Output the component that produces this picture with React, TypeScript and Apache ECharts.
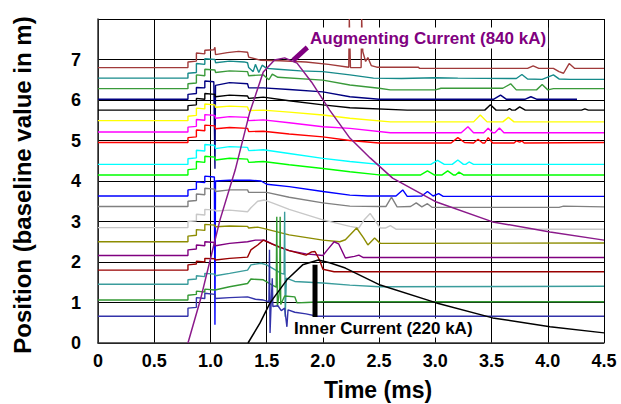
import React, { useEffect, useRef } from "react";
import * as echarts from "echarts";

// ---- Data (time in ms, position in m) ----
const yTickLabels = ["0", "1", "2", "3", "4", "5", "6", "7"];

const trace01 = [[0,6.80],[0.80,6.80],[0.80,6.94],[0.875,6.96],[0.875,7.16],[0.95,7.14],[0.95,7.23],[1.03,7.24],[1.04,7.30],[1.045,7.12],[1.15,7.17],[1.25,7.20],[1.33,7.18],[1.34,7.06],[1.45,6.98],[1.62,6.97],[1.85,6.94],[2.05,6.88],[2.23,6.81],[2.235,8.0],[2.245,6.80],[2.34,6.80],[2.345,8.0],[2.355,7.19],[2.38,6.95],[2.40,7.05],[2.43,6.85],[2.48,6.81],[2.85,6.81],[2.86,6.78],[3.82,6.78],[3.87,6.84],[3.92,6.78],[4.05,6.78],[4.10,6.70],[4.14,6.66],[4.19,6.90],[4.24,6.78],[4.5,6.78]];
const trace02 = [[0,6.54],[0.80,6.54],[0.80,6.66],[0.875,6.68],[0.875,6.90],[0.95,6.88],[0.95,7.02],[1.04,7.00],[1.045,6.92],[1.17,6.96],[1.30,6.94],[1.33,6.92],[1.34,6.80],[1.38,6.70],[1.40,6.88],[1.43,6.68],[1.46,6.86],[1.50,6.78],[1.60,6.76],[1.80,6.72],[2.0,6.70],[2.24,6.62],[2.45,6.54],[2.7,6.53],[3.0,6.55],[3.2,6.54],[3.72,6.53],[3.77,6.63],[3.82,6.52],[3.95,6.51],[4.05,6.62],[4.10,6.52],[4.2,6.51],[4.5,6.51]];
const trace03 = [[0,6.28],[0.80,6.28],[0.80,6.40],[0.875,6.42],[0.875,6.62],[0.95,6.60],[0.95,6.76],[1.04,6.74],[1.045,6.68],[1.17,6.72],[1.33,6.70],[1.34,6.60],[1.47,6.62],[1.52,6.50],[1.55,6.64],[1.60,6.56],[2.0,6.49],[2.24,6.37],[2.50,6.29],[2.6,6.25],[3.0,6.25],[3.05,6.29],[3.60,6.29],[3.67,6.40],[3.72,6.25],[3.90,6.25],[3.95,6.38],[4.0,6.25],[4.05,6.28],[4.5,6.28]];
const trace04 = [[0,6.02],[0.80,6.02],[0.80,6.14],[0.875,6.16],[0.875,6.31],[0.95,6.30],[0.95,6.47],[1.03,6.45],[1.04,4.30],[1.045,6.36],[1.17,6.43],[1.33,6.40],[1.34,6.30],[1.47,6.30],[1.70,6.26],[2.0,6.20],[2.24,6.08],[2.5,6.02],[3.52,6.02],[3.58,6.12],[3.63,6.02],[3.80,6.02],[3.85,6.08],[3.90,6.02],[4.26,6.02]];
const trace05 = [[0,5.75],[0.80,5.75],[0.80,5.86],[0.875,5.88],[0.875,6.04],[0.95,6.02],[0.95,6.16],[1.04,6.14],[1.045,6.08],[1.17,6.12],[1.33,6.10],[1.34,6.04],[1.47,6.07],[1.70,5.98],[2.0,5.88],[2.24,5.81],[2.75,5.75],[3.44,5.75],[3.49,5.88],[3.54,5.75],[3.64,5.75],[3.66,5.79],[3.68,5.75],[3.71,5.75],[3.75,5.83],[3.80,5.75],[4.30,5.75],[4.33,5.78],[4.36,5.75],[4.5,5.75]];
const trace06 = [[0,5.49],[0.80,5.49],[0.80,5.60],[0.875,5.62],[0.875,5.80],[0.95,5.78],[0.95,5.90],[1.04,5.88],[1.045,5.82],[1.17,5.85],[1.33,5.83],[1.34,5.74],[1.47,5.75],[1.70,5.70],[2.0,5.63],[2.24,5.55],[2.6,5.46],[3.34,5.46],[3.40,5.63],[3.46,5.46],[3.60,5.46],[3.65,5.57],[3.70,5.46],[4.5,5.46]];
const trace07 = [[0,5.21],[0.80,5.21],[0.80,5.33],[0.875,5.35],[0.875,5.52],[0.95,5.50],[0.95,5.64],[1.04,5.62],[1.045,5.55],[1.17,5.59],[1.33,5.57],[1.34,5.49],[1.47,5.51],[1.7,5.44],[2.0,5.34],[2.24,5.30],[2.6,5.19],[3.23,5.19],[3.29,5.34],[3.34,5.19],[3.43,5.19],[3.47,5.30],[3.51,5.19],[3.53,5.19],[3.57,5.31],[3.61,5.19],[4.5,5.19]];
const trace08 = [[0,4.95],[0.80,4.95],[0.80,5.07],[0.875,5.09],[0.875,5.26],[0.95,5.24],[0.95,5.38],[1.04,5.36],[1.045,5.29],[1.17,5.32],[1.33,5.30],[1.34,5.22],[1.47,5.23],[1.7,5.16],[2.0,5.09],[2.24,5.00],[2.5,4.94],[3.14,4.94],[3.20,5.07],[3.26,4.95],[3.34,4.94],[3.38,5.03],[3.42,4.94],[3.44,4.94],[3.47,5.07],[3.51,4.94],[3.70,4.94],[3.72,4.99],[3.75,4.96],[3.77,4.99],[3.79,4.94],[4.5,4.95]];
const trace09 = [[0,4.41],[0.80,4.41],[0.80,4.55],[0.875,4.57],[0.875,4.76],[0.95,4.74],[0.95,4.90],[1.04,4.88],[1.045,4.80],[1.17,4.85],[1.33,4.83],[1.34,4.75],[1.47,4.77],[1.7,4.68],[2.0,4.56],[2.24,4.48],[2.5,4.41],[2.96,4.41],[3.02,4.51],[3.08,4.41],[3.15,4.41],[3.20,4.52],[3.25,4.41],[3.27,4.41],[3.30,4.47],[3.34,4.41],[4.5,4.41]];
const trace10 = [[0,4.15],[0.80,4.15],[0.80,4.28],[0.875,4.30],[0.875,4.48],[0.95,4.46],[0.95,4.61],[1.04,4.59],[1.045,4.52],[1.17,4.56],[1.33,4.54],[1.34,4.46],[1.47,4.48],[1.7,4.40],[2.0,4.31],[2.24,4.23],[2.5,4.15],[2.87,4.15],[2.93,4.25],[2.99,4.15],[3.06,4.15],[3.11,4.25],[3.16,4.15],[3.18,4.15],[3.21,4.22],[3.25,4.15],[4.5,4.15]];
const trace11 = [[0,3.63],[0.80,3.63],[0.80,3.78],[0.875,3.80],[0.875,3.98],[0.95,3.96],[0.95,4.12],[1.035,4.10],[1.04,0.45],[1.045,4.00],[1.17,4.02],[1.35,4.02],[1.45,4.00],[1.50,3.92],[1.70,3.86],[2.0,3.74],[2.24,3.65],[2.40,3.63],[2.65,3.63],[2.71,3.78],[2.75,3.62],[2.88,3.63],[2.93,3.74],[2.98,3.63],[3.03,3.69],[3.07,3.62],[4.5,3.62]];
const trace12 = [[0,3.37],[0.80,3.37],[0.80,3.50],[0.875,3.52],[0.875,3.68],[0.95,3.66],[0.95,3.82],[1.04,3.80],[1.045,3.74],[1.17,3.78],[1.33,3.78],[1.34,3.72],[1.50,3.72],[1.70,3.60],[2.0,3.46],[2.24,3.38],[2.50,3.37],[2.56,3.37],[2.61,3.60],[2.66,3.36],[2.78,3.37],[2.83,3.46],[2.88,3.36],[2.93,3.44],[2.97,3.35],[4.10,3.35],[4.14,3.38],[4.5,3.36]];
const trace13 = [[0,2.85],[0.80,2.85],[0.80,3.00],[0.875,3.02],[0.875,3.18],[0.95,3.16],[0.95,3.30],[1.04,3.28],[1.045,3.26],[1.17,3.28],[1.33,3.24],[1.36,3.34],[1.42,3.50],[1.48,3.53],[1.55,3.46],[1.70,3.30],[2.0,3.04],[2.24,2.88],[2.32,2.84],[2.37,3.05],[2.42,3.20],[2.47,3.00],[2.51,2.84],[2.56,2.84],[2.60,2.90],[2.65,2.81],[4.5,2.81]];
const trace14 = [[0,2.50],[0.80,2.50],[0.80,2.64],[0.875,2.66],[0.875,2.80],[0.95,2.78],[0.95,2.93],[1.04,2.91],[1.045,2.87],[1.17,2.89],[1.33,2.88],[1.34,2.84],[1.42,2.86],[1.47,2.83],[1.70,2.67],[2.0,2.54],[2.15,2.50],[2.20,2.55],[2.30,2.84],[2.36,2.60],[2.40,2.42],[2.46,2.59],[2.51,2.46],[4.5,2.47]];
const trace15 = [[0,2.16],[0.80,2.16],[0.80,2.30],[0.875,2.32],[0.875,2.42],[0.95,2.40],[0.95,2.50],[1.04,2.48],[1.045,2.40],[1.17,2.46],[1.33,2.50],[1.40,2.54],[1.48,2.54],[1.60,2.38],[1.70,2.28],[1.85,2.20],[2.0,2.16],[2.04,2.30],[2.10,2.50],[2.14,2.45],[2.20,2.10],[2.28,2.14],[2.32,2.17],[2.36,2.11],[4.5,2.11]];
const trace16 = [[0,1.80],[0.80,1.80],[0.80,1.93],[0.875,1.95],[0.875,2.02],[0.95,2.00],[0.95,2.09],[1.04,2.08],[1.045,2.05],[1.17,2.09],[1.33,2.12],[1.36,2.30],[1.42,2.42],[1.47,2.54],[1.55,2.44],[1.70,2.28],[1.85,2.17],[1.90,2.25],[1.93,2.26],[1.97,2.05],[2.0,1.82],[2.10,1.76],[4.5,1.76]];
const trace17 = [[0,1.45],[0.80,1.45],[0.80,1.56],[0.875,1.58],[0.875,1.66],[0.95,1.64],[0.95,1.72],[1.04,1.70],[1.045,1.66],[1.17,1.72],[1.33,1.80],[1.36,1.93],[1.45,1.97],[1.50,1.93],[1.58,1.80],[1.63,1.72],[1.655,1.70],[1.66,3.24],[1.665,0.65],[1.675,1.60],[1.75,1.52],[2.0,1.48],[2.24,1.43],[2.5,1.39],[4.5,1.40]];
const trace18 = [[0,1.06],[0.80,1.06],[0.80,1.18],[0.875,1.20],[0.875,1.28],[0.95,1.26],[0.95,1.33],[1.04,1.31],[1.045,1.30],[1.17,1.39],[1.33,1.47],[1.36,1.58],[1.47,1.56],[1.55,1.43],[1.585,1.38],[1.59,3.12],[1.595,0.90],[1.615,1.30],[1.62,3.12],[1.625,0.95],[1.66,1.16],[1.75,1.14],[1.77,0.99],[1.85,1.00],[2.0,1.02],[4.5,1.02]];
const trace19 = [[0,0.66],[0.80,0.66],[0.80,0.86],[0.875,0.88],[0.875,1.12],[0.95,1.10],[0.95,1.23],[1.04,1.20],[1.045,1.10],[1.17,1.12],[1.33,1.14],[1.40,1.08],[1.47,1.06],[1.52,1.02],[1.525,2.30],[1.53,0.25],[1.54,1.00],[1.55,1.60],[1.555,0.90],[1.60,0.92],[1.63,0.80],[1.66,0.86],[1.68,0.40],[1.69,0.82],[1.75,0.76],[1.85,0.72],[1.95,0.66],[4.5,0.66]];

const augmentingCurrent = [[0.80,0],[0.91,1.06],[1.085,3.04],[1.22,4.27],[1.35,5.70],[1.47,6.69],[1.57,6.99],[1.66,7.04],[1.77,6.91],[1.90,6.44],[2.06,5.75],[2.24,5.06],[2.42,4.57],[2.62,4.07],[3.01,3.48],[3.51,2.99],[4.02,2.74],[4.5,2.54]];
const innerCurrent = [[1.334,0],[1.44,0.49],[1.53,0.99],[1.68,1.56],[1.82,1.93],[1.96,2.05],[2.06,1.98],[2.20,1.85],[2.51,1.43],[3.01,0.99],[3.51,0.62],[4.02,0.40],[4.5,0.25]];

const augmentPointer = [[1.735,6.98],[1.862,7.30]];
const innerMarker = [[1.93,1.93],[1.93,0.64]];

const augmentLabel = "Augmenting Current (840 kA)";
const innerLabel = "Inner Current (220 kA)";

const traces = [trace01,trace02,trace03,trace04,trace05,trace06,trace07,trace08,trace09,trace10,trace11,trace12,trace13,trace14,trace15,trace16,trace17,trace18,trace19];
const traceColors = ["#a03a3a","#168a8a","#3a9a3a","#000080","#000000","#ffff00","#ff00ff","#ff0000","#00ffff","#00ff00","#0000ff","#808080","#c8c8c8","#8c8c00","#800080","#990000","#3a9c9c","#339933","#3333aa"];

const FONT = "'Liberation Sans', Arial, sans-serif";

export default function App() {
  const ref = useRef<HTMLDivElement>(null);
  useEffect(() => {
    if (!ref.current) return;
    const chart = echarts.init(ref.current, undefined, { renderer: "svg" });
    const lineSeries = traces.map((d, i) => ({
      type: "line",
      data: d,
      showSymbol: false,
      symbol: "none",
      lineStyle: { color: traceColors[i], width: 1.4 },
      itemStyle: { color: traceColors[i] },
      clip: true,
      z: 2,
    }));
    chart.setOption({
      animation: false,
      backgroundColor: "#ffffff",
      grid: { left: 98, right: 17, top: 19, bottom: 61, show: false },
      xAxis: {
        type: "value",
        min: 0,
        max: 4.5,
        interval: 0.5,
        axisLine: { show: true, lineStyle: { color: "#333", width: 1.5 } },
        axisTick: { show: false },
        axisLabel: {
          margin: 9,
          color: "#000",
          fontSize: 18,
          fontWeight: "bold",
          fontFamily: FONT,
          formatter: (v: number) => (v === 0 ? "0" : v.toFixed(1)),
        },
        splitLine: { show: true, lineStyle: { color: "#000", width: 1 } },
      },
      yAxis: {
        type: "value",
        min: 0,
        max: 8,
        interval: 1,
        axisLine: { show: true, lineStyle: { color: "#333", width: 1.5 } },
        axisTick: { show: false },
        axisLabel: {
          margin: 17,
          color: "#000",
          fontSize: 18,
          fontWeight: "bold",
          fontFamily: FONT,
          formatter: (v: number) => (v < yTickLabels.length ? yTickLabels[v] : ""),
        },
        splitLine: { show: true, lineStyle: { color: "#000", width: 1 } },
      },
      series: [
        ...lineSeries,
        {
          type: "line",
          data: augmentingCurrent,
          showSymbol: false,
          symbol: "none",
          lineStyle: { color: "#8b1a8b", width: 1.5 },
          z: 3,
        },
        {
          type: "line",
          data: innerCurrent,
          showSymbol: false,
          symbol: "none",
          lineStyle: { color: "#000", width: 1.5 },
          z: 3,
        },
        {
          type: "line",
          data: augmentPointer,
          showSymbol: false,
          symbol: "none",
          lineStyle: { color: "#800080", width: 5 },
          z: 4,
        },
        {
          type: "line",
          data: innerMarker,
          showSymbol: false,
          symbol: "none",
          lineStyle: { color: "#000", width: 5 },
          z: 4,
        },
      ],
      graphic: [
        {
          type: "text",
          x: 308,
          y: 38,
          z: 10,
          style: {
            text: augmentLabel,
            fill: "#800080",
            font: `bold 17px ${FONT}`,
            textVerticalAlign: "middle",
            verticalAlign: "middle",
            backgroundColor: "#fff",
            padding: [2, 2, 2, 2],
          },
        },
        {
          type: "text",
          x: 292,
          y: 328,
          z: 10,
          style: {
            text: innerLabel,
            fill: "#000",
            font: `bold 17px ${FONT}`,
            verticalAlign: "middle",
            backgroundColor: "#fff",
            padding: [1, 2, 1, 2],
          },
        },
        {
          type: "text",
          x: 378,
          y: 390,
          style: {
            text: "Time (ms)",
            fill: "#000",
            font: `bold 23px ${FONT}`,
            align: "center",
            verticalAlign: "middle",
          },
        },
        {
          type: "text",
          x: 22,
          y: 185,
          rotation: Math.PI / 2,
          style: {
            text: "Position (baseline value in m)",
            fill: "#000",
            font: `bold 24px ${FONT}`,
            align: "center",
            verticalAlign: "middle",
          },
        },
      ],
    });
    return () => chart.dispose();
  }, []);
  return (
    <div
      ref={ref}
      style={{ position: "fixed", left: 0, top: 0, width: 621, height: 404, background: "#fff" }}
    />
  );
}
